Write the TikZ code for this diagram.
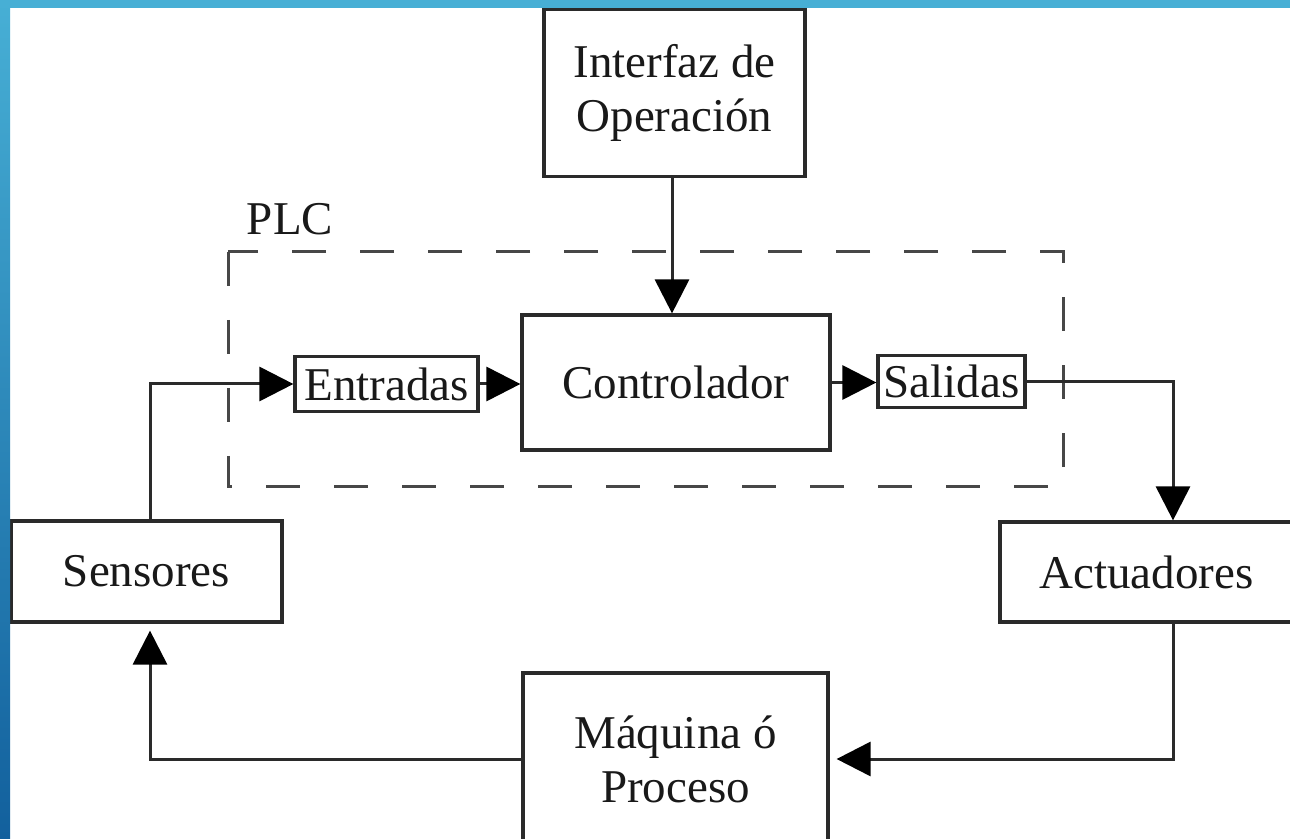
\documentclass[tikz,border=0pt]{standalone}
\usepackage{fontspec}
\setmainfont{Liberation Serif}
\usetikzlibrary{arrows.meta,calc}
\definecolor{framelight}{HTML}{47AFD5}
\definecolor{framedark}{HTML}{12609D}
\definecolor{lineclr}{HTML}{2A2A2A}
\definecolor{dashclr}{HTML}{474747}
\begin{document}
\begin{tikzpicture}[x=0.5pt,y=-0.5pt,
  blockbox/.style={draw=lineclr, line width=1.6pt, rectangle, inner sep=0pt,
    align=center, font=\fontsize{23.5}{27}\selectfont, text=black!90},
  conn/.style={draw=lineclr, line width=1.5pt, line join=miter,
    -{Triangle[length=17pt,width=17pt,color=black]}},
  plcline/.style={draw=dashclr, line width=1.5pt, dash pattern=on 17pt off 17pt},
  lbl/.style={inner sep=0pt, font=\fontsize{23.5}{27}\selectfont, text=black!90}]
\useasboundingbox (0,0) rectangle (1290,839);
\fill[white] (0,0) rectangle (1290,839);
\begin{scope}
\clip (0,0) rectangle (1290,839);
% PLC dashed frame
\draw[plcline] (228,252) rectangle (1063,486);
\node[lbl] (plc) at (290,219) {PLC};
% blocks
\node[blockbox, minimum width=130.5pt, minimum height=83.5pt] (interfaz) at (674.5,93) {Interfaz de\\Operación};
\node[blockbox, minimum width=154pt, minimum height=67.5pt] (ctrl) at (676,382.5) {Controlador};
\node[blockbox, minimum width=91.5pt, minimum height=27.5pt] (entradas) at (386.5,384) {Entradas};
\node[blockbox, minimum width=73.5pt, minimum height=26pt] (salidas) at (951.5,381.5) {Salidas};
\node[blockbox, minimum width=135.5pt, minimum height=50.5pt] (sensores) at (146.5,571.5) {Sensores};
\node[blockbox, minimum width=146.5pt, minimum height=50pt] (actuadores) at (1146.5,572) {Actuadores};
\node[blockbox, minimum width=152.5pt, minimum height=86pt] (maquina) at (675.5,759) {Máquina ó\\Proceso};
% connectors
\draw[conn] ([xshift=-1.25pt]interfaz.south) -- ([xshift=-1.25pt]interfaz.south |- ctrl.north);
\draw[conn] ([xshift=1.75pt]sensores.north) |- (entradas.west);
\draw[conn] (entradas.east) -- (entradas.east -| ctrl.west);
\draw[conn] (ctrl.east) -- (ctrl.east -| salidas.west);
\draw[conn] (salidas.east) -| ([xshift=13.25pt]actuadores.north);
\draw[conn, shorten >=3.5pt] ([xshift=13.25pt]actuadores.south) |- (maquina.east);
\draw[conn, shorten >=3.5pt] (maquina.west) -| ([xshift=1.75pt]sensores.south);
% slide frame
\shade[top color=framelight, bottom color=framedark] (0,0) rectangle (10,839);
\fill[framelight] (0,0) rectangle (1290,8);
\end{scope}
\end{tikzpicture}
\end{document}
